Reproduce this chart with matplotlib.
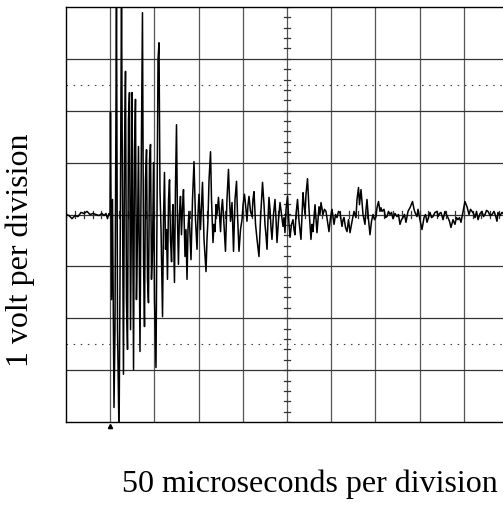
import numpy as np
import matplotlib
matplotlib.use("Agg")
import matplotlib.pyplot as plt

# scope trace: time in microseconds, amplitude in volts
t_us = [0.0, 3.4, 6.8, 10.2, 13.6, 17.0, 20.4, 23.8, 27.1, 30.5, 33.9, 37.3, 40.7, 43.0, 45.2, 46.9, 48.6,
        49.8, 50.3, 51.5, 52.6, 54.3, 55.4, 57.1, 58.3, 60.0, 61.1, 62.8, 63.9, 65.0, 66.2, 67.3, 68.4,
        69.6, 70.7, 71.8, 73.0, 74.1, 74.7, 76.4, 77.5, 78.6, 79.7, 80.9, 82.0, 83.7, 84.8, 86.5, 87.7,
        88.8, 89.9, 91.1, 92.2, 93.3, 94.5, 95.6, 96.7, 97.9, 99.0, 100.1, 101.8, 103.0, 104.1, 105.2,
        106.3, 107.5, 109.2, 110.3, 111.4, 112.6, 113.7, 114.8, 116.0, 117.1, 118.2, 119.4, 120.5, 121.0,
        122.7, 123.8, 125.0, 126.1, 127.2, 128.3, 129.5, 130.6, 131.7, 132.9, 134.6, 135.7, 136.9, 138.0,
        139.1, 140.3, 141.4, 143.1, 144.8, 146.5, 148.2, 149.3, 150.4, 152.1, 154.4, 156.1, 158.4, 159.5,
        160.6, 161.8, 163.5, 164.6, 166.3, 167.4, 168.6, 169.7, 170.8, 172.5, 173.7, 174.8, 175.9, 177.0,
        178.7, 180.4, 182.1, 183.8, 185.0, 186.1, 187.8, 189.5, 191.2, 192.9, 194.0, 195.7, 197.4, 199.1,
        200.3, 201.9, 203.6, 204.7, 205.9, 207.0, 208.7, 210.4, 211.5, 212.7, 214.4, 216.1, 218.3, 220.0,
        222.3, 224.0, 225.1, 226.2, 227.4, 228.5, 229.6, 230.8, 231.9, 233.0, 234.7, 236.4, 237.6, 238.7,
        240.4, 242.1, 243.8, 245.5, 246.6, 247.7, 248.9, 250.6, 252.3, 253.4, 255.1, 256.8, 257.9, 259.0,
        260.2, 261.9, 263.6, 265.8, 267.0, 268.1, 269.2, 270.4, 271.5, 273.2, 274.9, 277.1, 278.3, 279.4,
        281.7, 283.9, 286.2, 287.3, 288.5, 290.7, 292.4, 294.1, 295.8, 297.5, 299.2, 300.9, 303.2, 304.9,
        306.6, 308.3, 309.9, 312.2, 313.4, 314.5, 316.2, 317.9, 319.6, 321.3, 323.6, 325.8, 328.0, 329.2,
        330.9, 332.0, 333.7, 336.0, 338.2, 339.4, 340.5, 342.2, 343.9, 345.6, 347.3, 349.0, 350.7, 351.8,
        353.5, 355.2, 356.3, 357.5, 359.7, 361.4, 363.1, 364.8, 366.5, 368.2, 369.9, 372.2, 374.4, 376.1,
        377.8, 379.5, 381.2, 382.9, 384.6, 386.9, 389.1, 392.0, 393.7, 394.8, 397.0, 398.2, 400.4, 402.7,
        405.0, 406.7, 408.4, 411.8, 413.5, 415.1, 417.4, 419.7, 420.8, 422.5, 424.2, 426.5, 428.7, 430.4,
        432.1, 433.8, 435.5, 437.8, 440.0, 441.7, 443.4, 445.1, 446.8, 449.1, 451.3, 453.6, 455.9, 457.6,
        459.3, 461.0, 462.7, 464.4, 466.1, 468.4, 470.6, 472.3, 474.0, 475.7, 477.4, 479.7, 481.9, 484.2,
        485.9, 487.5, 488.7, 491.0, 493.2, 495.5, 497.7, 500.0]
volts = [0.00, -0.02, -0.08, -0.02, -0.04, 0.04, 0.02, 0.06, 0.00, 0.02, 0.00, -0.02, 0.02, -0.02, 0.02, -0.08, 0.02,
         0.00, 1.97, -1.64, 0.29, -3.72, -2.22, 4.30, -2.22, -4.30, -1.25, 4.30, 0.29, -3.08, 1.25, 2.76, -1.64,
         -2.60, 1.83, 2.35, -2.22, 0.29, 2.35, -2.99, 1.25, 2.22, -1.64, -0.39, 1.31, -2.64, 0.29, 3.89, -0.87,
         -2.16, 0.67, 1.25, -1.25, -1.70, 1.06, 1.35, -1.25, -0.67, 1.00, -1.64, -2.95, 0.29, 2.99, 3.31,
         0.48, -0.29, -1.97, -0.10, 0.81, -0.67, -0.29, -1.25, 0.29, 0.67, -0.48, -0.91, 0.00, 0.19,
         -1.31, 0.48, 1.73, -0.10, -0.96, 0.00, 0.35, -0.39, 0.10, 0.48, -0.81, -0.29, -1.25, -0.29,
         0.06, -0.39, -0.87, 0.29, 1.02, -0.10, -0.67, 0.00, 0.39, -0.29, 0.62, -0.48, -1.10, -0.48,
         -0.10, 0.67, 1.21, 0.29, -0.54, -0.19, -0.33, 0.19, 0.00, 0.33, 0.00, -0.33, 0.10, 0.29,
         -0.19, -0.71, 0.29, 0.87, 0.29, -0.13, 0.23, -0.71, 0.29, 0.64, 0.00, -0.71, -0.29, -0.10,
         0.19, 0.39, 0.10, -0.13, 0.19, 0.35, 0.06, -0.04, 0.29, 0.44, -0.19, -0.48, -0.81, -0.10,
         0.62, 0.19, -0.19, -0.39, -0.67, -0.10, 0.33, 0.10, -0.25, -0.48, 0.00, 0.29, -0.10, -0.54,
         -0.10, 0.23, 0.00, -0.23, -0.06, -0.35, 0.10, 0.35, -0.19, -0.44, -0.19, -0.10, -0.29, -0.39,
         0.00, 0.29, -0.13, -0.48, 0.00, 0.42, 0.19, 0.00, 0.39, 0.69, 0.10, -0.48, -0.19, -0.33,
         0.19, -0.35, 0.15, 0.00, 0.23, 0.00, 0.10, 0.06, -0.13, -0.33, -0.06, 0.10, -0.19, 0.00,
         -0.06, 0.06, 0.04, -0.23, -0.10, -0.06, -0.25, -0.33, -0.10, -0.35, -0.13, 0.06, -0.06, 0.29,
         0.52, 0.19, 0.48, 0.00, -0.19, 0.10, 0.29, -0.10, -0.39, -0.13, 0.00, -0.10, -0.04, 0.13,
         0.25, 0.06, 0.13, 0.06, 0.10, -0.06, -0.04, 0.06, 0.00, 0.04, -0.08, 0.02, -0.04, 0.00,
         -0.19, -0.10, -0.06, 0.00, -0.15, 0.06, 0.13, 0.25, 0.10, 0.04, -0.04, 0.10, -0.10, -0.29,
         -0.06, 0.00, -0.15, 0.04, -0.06, -0.04, 0.04, 0.06, -0.04, 0.02, 0.04, -0.10, 0.06, 0.00,
         -0.06, -0.13, -0.25, -0.10, -0.19, -0.06, -0.10, -0.06, -0.15, 0.06, 0.25, 0.15, 0.00, 0.10,
         0.06, 0.02, -0.06, 0.06, -0.10, 0.02, 0.06, -0.04, 0.00, 0.08, 0.06, -0.02, 0.00, 0.06,
         -0.02, -0.13, 0.04, -0.02, 0.04, 0.00, 0.02, 0.02]

trigger_us = 50.0
us_per_div = 50
volts_per_div = 1
n_xdiv = 10
n_ydiv = 8

plt.rcParams['font.family'] = ['Liberation Serif', 'DejaVu Serif']

fig = plt.figure(figsize=(5.03, 5.05), dpi=100)
ax = fig.add_axes([66/503, 83/505, 442/503, 415/505])
ax.set_xlim(0, n_xdiv*us_per_div)
ax.set_ylim(-n_ydiv/2*volts_per_div, n_ydiv/2*volts_per_div)

# graticule
for k in range(1, n_xdiv):
    ax.axvline(k*us_per_div, color='#555555', lw=0.9, zorder=1)
for k in range(1, n_ydiv):
    ax.axhline(-4 + k*volts_per_div, color='#333333', lw=0.9, zorder=1)
for yv in (2.5, -2.5):
    ax.axhline(yv, color='#444444', lw=0.8, dashes=(1.4, 5.0), zorder=1)

# minor ticks along the centre lines
xc = n_xdiv/2*us_per_div
for yy in np.arange(-4, 4.01, 0.2):
    ax.plot([xc-3.5, xc+3.5], [yy, yy], color='#333333', lw=0.9, zorder=1)
for xx in np.arange(0, 500.1, 10):
    ax.plot([xx, xx], [-0.07, 0.07], color='#333333', lw=0.9, zorder=1)

ax.plot(t_us, volts, color='black', lw=1.1, zorder=3)

# trigger marker under the screen
ax.plot([trigger_us], [-4.07], marker='^', ms=3, color='black', clip_on=False)

ax.set_xticks([])
ax.set_yticks([])
for s in ax.spines.values():
    s.set_color('black')
    s.set_linewidth(1.0)

fig.text(20/503, 1-250/505, '1 volt per division', rotation=90, ha='center', va='center', fontsize=23)
fig.text(310/503, 1-492/505, '50 microseconds per division', ha='center', va='baseline', fontsize=23)

fig.savefig('out.png', dpi=100)
